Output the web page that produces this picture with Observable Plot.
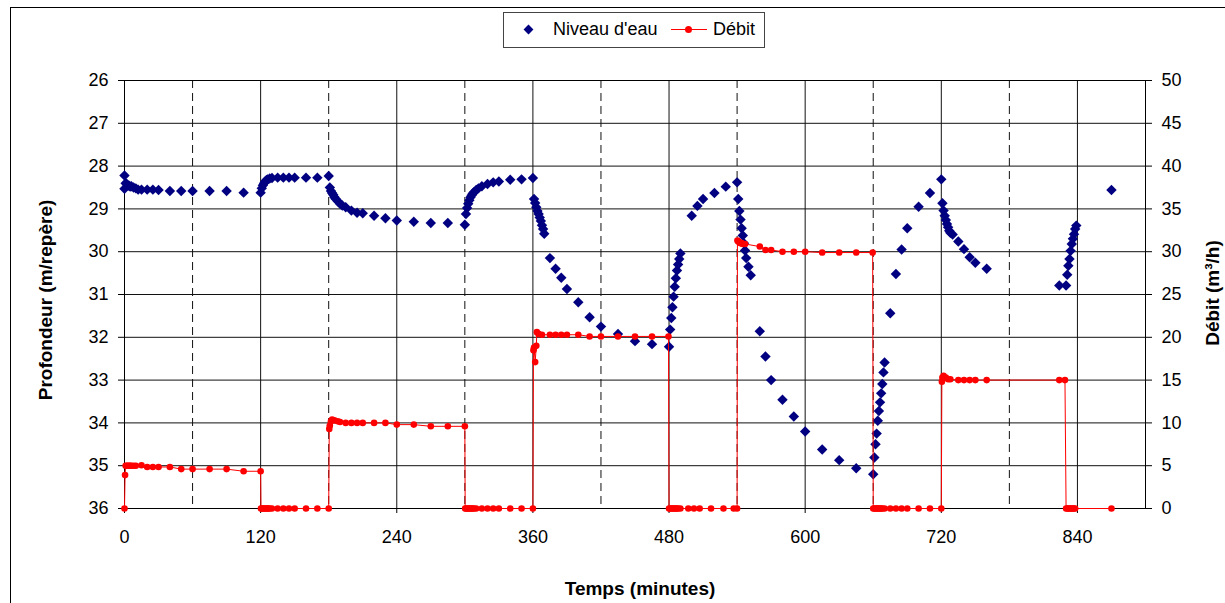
<!DOCTYPE html>
<html>
<head>
<meta charset="utf-8">
<script src="https://cdn.jsdelivr.net/npm/d3@7"></script>
<script src="https://cdn.jsdelivr.net/npm/@observablehq/plot@0.6"></script>
<style>
  html, body { margin: 0; padding: 0; background: #fff; overflow: hidden; }
  #wrap { position: relative; width: 1225px; height: 603px; overflow: hidden; font-family: "Liberation Sans", Arial, sans-serif; color: #000; }
  #outer { position: absolute; left: 10px; top: 7px; width: 1400px; height: 800px; border-left: 1px solid #000; border-top: 1px solid #000; }
  #chart { position: absolute; left: 0; top: 60px; }
  .abs { position: absolute; white-space: nowrap; }
  .title { font-weight: bold; font-size: 19px; }
</style>
</head>
<body>
<div id="wrap">
  <div id="outer"></div>
  <div id="legend" class="abs" style="left:503px;top:12px;width:260px;height:34px;border:1px solid #444;background:#fff;"></div>
  <div class="abs" style="left:525px;top:26px;width:7px;height:7px;background:#000080;transform:rotate(45deg);"></div>
  <div class="abs" style="left:553px;top:18px;font-size:18px;line-height:22px;">Niveau d'eau</div>
  <div class="abs" style="left:671px;top:29px;width:36px;height:1px;background:#ff0000;"></div>
  <div class="abs" style="left:685px;top:26px;width:7px;height:7px;border-radius:50%;background:#ff0000;"></div>
  <div class="abs" style="left:713px;top:18px;font-size:18px;line-height:22px;">Débit</div>
  <div id="chart"></div>
  <div class="abs title" style="left:640px;top:589px;transform:translate(-50%,-50%);">Temps (minutes)</div>
  <div class="abs title" style="left:46px;top:300px;transform:translate(-50%,-50%) rotate(-90deg);">Profondeur (m/repère)</div>
  <div class="abs title" style="left:1213px;top:293px;transform:translate(-50%,-50%) rotate(-90deg);">Débit (m³/h)</div>
</div>
<script>
// Niveau d'eau (profondeur, m/repère) vs temps (minutes)
const levelT = [0,0,1,2,3,4,5,6,8,10,12,15,20,25,30,40,50,60,75,90,105,120,
  121,122,123,124,125,126,128,130,135,140,145,150,160,170,180,
  181,182,183,184,185,186,188,190,192,195,200,205,210,220,230,240,255,270,285,300,
  301,302,303,304,305,306,307,308,310,312,315,320,325,330,340,350,360,
  361,362,363,364,365,366,367,368,369,370,375,380,385,390,400,410,420,435,450,465,480,
  481,482,483,484,485,486,487,488,489,490,500,505,510,520,530,540,
  541,542,543,544,545,546,547,548,550,552,560,565,570,580,590,600,615,630,645,660,
  661,662,663,664,665,666,667,668,669,670,675,680,685,690,700,710,720,
  721,722,723,724,725,726,727,728,730,735,740,745,750,760,
  824,830,831,832,833,834,835,836,837,838,839,870];
const levelZ = [28.22,28.53,28.40,28.42,28.45,28.46,28.48,28.47,28.50,28.52,28.55,28.55,28.55,28.55,28.56,28.58,28.58,28.58,28.58,28.58,28.62,28.62,
  28.52,28.45,28.40,28.36,28.33,28.31,28.29,28.28,28.27,28.27,28.27,28.27,28.27,28.27,28.23,
  28.50,28.58,28.63,28.67,28.72,28.76,28.82,28.88,28.92,28.96,29.04,29.09,29.10,29.16,29.22,29.27,29.30,29.33,29.33,29.37,
  29.12,28.98,28.88,28.80,28.73,28.68,28.64,28.61,28.56,28.52,28.47,28.42,28.38,28.36,28.32,28.31,28.28,
  28.77,28.86,28.96,29.05,29.12,29.20,29.28,29.38,29.47,29.58,30.15,30.40,30.61,30.87,31.18,31.53,31.75,31.92,32.09,32.16,32.22,
  31.82,31.55,31.30,31.05,30.82,30.62,30.44,30.30,30.17,30.04,29.16,28.93,28.77,28.63,28.48,28.38,
  28.77,29.05,29.25,29.45,29.62,29.80,29.97,30.15,30.35,30.55,31.86,32.45,33.00,33.46,33.85,34.20,34.62,34.87,35.06,35.20,
  34.81,34.50,34.25,33.95,33.72,33.52,33.31,33.09,32.82,32.59,31.44,30.52,29.95,29.45,28.95,28.63,28.31,
  28.87,29.04,29.16,29.26,29.35,29.43,29.51,29.56,29.60,29.76,29.94,30.13,30.26,30.40,
  30.79,30.79,30.54,30.33,30.17,29.98,29.82,29.70,29.59,29.47,29.39,28.56];

// Débit (m3/h) vs temps (minutes)
const debitT = [0,0.5,1,2,3,4,5,6,8,10,15,20,25,30,40,50,60,75,90,105,120,
  120.3,121,122,123,124,125,126,127,128,130,135,140,145,150,160,170,180,
  180.5,181,182,183,185,188,190,195,200,205,210,220,230,240,255,270,285,300,
  300.3,301,302,303,304,305,306,307,308,310,315,320,325,330,340,350,360,
  360.5,361,362,363,363.5,365,368,375,380,385,390,400,410,420,435,450,465,479.5,
  480,481,482,483,484,485,486,487,488,490,497,502,507,517,528,537,540,
  540.3,541,542,543,544,545,547,560,565,570,580,590,600,615,630,645,659.5,
  660,661,662,663,664,665,666,667,668,670,675,680,685,690,700,710,720,
  720.5,721,722,724,726,728,735,740,745,750,760,824,829,
  830,831,832,833,834,835,836,837,838,870];
const debitQ = [0,3.9,5.0,5.0,5.0,5.0,5.0,5.0,5.0,5.0,5.05,4.85,4.85,4.85,4.85,4.6,4.6,4.6,4.6,4.35,4.35,
  0,0,0,0,0,0,0,0,0,0,0,0,0,0,0,0,0,
  9.3,9.7,10.2,10.4,10.3,10.2,10.1,10.0,10.0,10.0,10.0,10.0,10.0,9.8,9.8,9.6,9.6,9.6,
  0,0,0,0,0,0,0,0,0,0,0,0,0,0,0,0,0,
  18.5,18.8,17.1,19.0,20.6,20.4,20.3,20.3,20.3,20.3,20.3,20.3,20.1,20.1,20.1,20.1,20.1,20.1,
  0,0,0,0,0,0,0,0,0,0,0,0,0,0,0,0,0,
  31.3,31.2,31.1,31.0,31.0,30.9,30.9,30.6,30.2,30.2,30.0,30.0,30.0,29.9,29.9,29.9,29.9,
  0,0,0,0,0,0,0,0,0,0,0,0,0,0,0,0,0,
  14.8,15.3,15.5,15.3,15.1,15.1,15.0,15.0,15.0,15.0,15.0,15.0,15.0,
  0,0,0,0,0,0,0,0,0,0];

const xTicks = [0,120,240,360,480,600,720,840];
const xSolid = [120,240,360,480,600,720,840];
const xDashed = [60,180,300,420,540,660,780];
const yTicks = [26,27,28,29,30,31,32,33,34,35,36];
const yGrid = [27,28,29,30,31,32,33,34,35];
const debitMax = 50;

const level = levelT.map((t, i) => ({t, z: levelZ[i]}));
const flow = debitT.map((t, i) => ({t, q: debitQ[i]}));
// map débit (0..50) onto the depth axis (36..26)
const qToY = q => 36 - q * 10 / debitMax;

const chart = Plot.plot({
  width: 1225,
  height: 543,
  marginTop: 20,
  marginBottom: 95,
  marginLeft: 124,
  marginRight: 80,
  style: {fontFamily: "'Liberation Sans', Arial, sans-serif", fontSize: "18px", color: "#000", background: "transparent", overflow: "visible"},
  x: {domain: [0, 900]},
  y: {domain: [26, 36], reverse: true},
  marks: [
    Plot.ruleY(yGrid, {stroke: "#111", strokeWidth: 1}),
    Plot.ruleX(xSolid, {stroke: "#111", strokeWidth: 1}),
    Plot.ruleX(xDashed, {stroke: "#111", strokeWidth: 1, strokeDasharray: "8,5"}),
    Plot.frame({stroke: "#000", strokeWidth: 1}),
    Plot.axisX({ticks: xTicks, tickSize: 5, tickPadding: 17, label: null, tickFormat: d => String(d)}),
    Plot.axisY({ticks: yTicks, tickSize: 6, tickPadding: 10, label: null, tickFormat: d => String(d)}),
    Plot.axisY({anchor: "right", ticks: yTicks, tickSize: 6, tickPadding: 10, label: null, tickFormat: d => String(Math.round((36 - d) * debitMax / 10))}),
    Plot.dot(level, {x: "t", y: "z", symbol: "diamond2", fill: "#000080", r: 4.7}),
    Plot.line(flow, {x: "t", y: d => qToY(d.q), stroke: "#ff0000", strokeWidth: 1}),
    Plot.dot(flow, {x: "t", y: d => qToY(d.q), fill: "#ff0000", r: 3.3})
  ]
});
document.getElementById("chart").appendChild(chart);
</script>
</body>
</html>
